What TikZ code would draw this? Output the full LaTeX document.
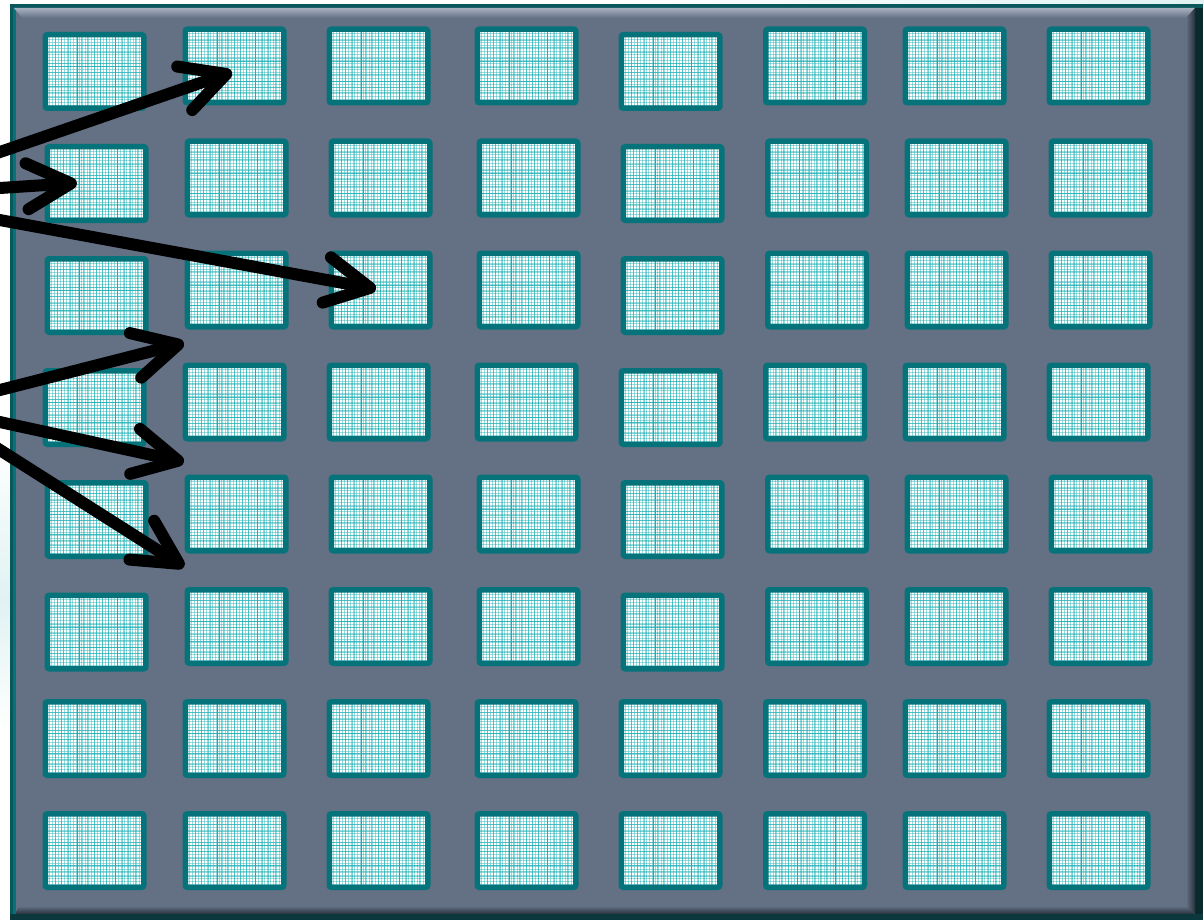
\documentclass[tikz,border=0pt]{standalone}
\usetikzlibrary{arrows.meta}
\definecolor{panel}{HTML}{647084}
\definecolor{tealb}{HTML}{06737A}
\definecolor{cyanl}{HTML}{19AFB3}
\definecolor{frameD}{HTML}{0A575C}
\definecolor{frameK}{HTML}{0B2A2E}
\definecolor{bevelL}{HTML}{A7B1C0}
\definecolor{shadowD}{HTML}{26323C}
\definecolor{glow}{HTML}{E0F2F2}
\newcommand\vln[3]{\draw[cyanl,#2] ([xshift=#1pt]path picture bounding box.north west) -- ([xshift=#1pt]path picture bounding box.south west);}
\newcommand\hln[3]{\draw[cyanl,#2] ([yshift=-#1pt]path picture bounding box.north west) -- ([yshift=-#1pt]path picture bounding box.north east);}
\newcommand\plaidpat{%
    \foreach \i in {1.5,4.5,...,99} {\vln{\i}{opacity=.42,line width=1}{}}
    \foreach \j in {1.5,4.5,...,75} {\hln{\j}{opacity=.42,line width=1}{}}
    \foreach \i in {10,16,23,36,42,49,55,61,77,83,90} {\vln{\i}{opacity=.55,line width=1}{}}
    \foreach \j in {11,18,29,38,45,58,63} {\hln{\j}{opacity=.55,line width=1}{}}
    \foreach \i in {32,70} {\vln{\i}{line width=1.3}{}}
    \foreach \j in {32,52} {\hln{\j}{opacity=.8,line width=1.2}{}}
}
\tikzset{
  cell/.style={draw=tealb, line width=5.5, fill=white, rounded corners=2,
    minimum width=98.5, minimum height=73.5, inner sep=0, outer sep=0,
    path picture={\plaidpat}},
  arr/.style={draw=black, line width=12, line cap=round,
    -{Straight Barb[length=44pt,width=46pt,round]}}
}
\begin{document}
\begin{tikzpicture}[x=1pt,y=-1pt]
\useasboundingbox (0,0) rectangle (1204,920);
\clip (0,0) rectangle (1204,920);
\fill[white] (0,0) rectangle (1204,920);
% faint glow outside the panel
\shade[top color=white, bottom color=glow] (0,440) rectangle (10,600);
\shade[top color=glow, bottom color=white] (0,600) rectangle (10,730);
\shade[left color=white, right color=glow] (600,0) rectangle (1204,5);
% panel frame
\fill[frameD] (10,4) rectangle (1203,921);
\fill[frameK] (1195,8) rectangle (1203,921);
\fill[frameK!70!frameD] (10,914) rectangle (1203,921);
\fill[tealb] (13,8) rectangle (16,914);
\fill[panel] (16,8) rectangle (1195,914);
% bevels
\shade[top color=bevelL, bottom color=panel] (14,8) -- (1195,8) -- (1186,18) -- (22,18) -- cycle;
\shade[left color=panel, right color=shadowD] (1186,18) -- (1195,8) -- (1195,914) -- (1186,906) -- cycle;
\shade[top color=panel, bottom color=shadowD] (18,906) -- (1186,906) -- (1195,914) -- (16,914) -- cycle;
% cells
\foreach \r/\y/\dx in {1/66/0,2/178/2,3/290/2,4/402/0,5/514/2,6/626.5/2,7/738.5/0,8/850.5/0}{
  \foreach \c/\x in {1/94.5,2/234.5,3/378.5,4/526.5,5/670.5,6/815,7/954.5,8/1098.5}{
    \pgfmathsetmacro\dy{((\c==1||\c==5)&&\r<7)?5.5:0}
    \node[cell] (c\r\c) at (\x+\dx,\y+\dy) {};
  }
}
% arrows (free ends enter from the left)
\coordinate (s1) at (-20,158.9);
\coordinate (t1) at (232,72);
\coordinate (s2) at (-20,189.3);
\coordinate (t2) at (77,183);
\coordinate (s3) at (-20,216.4);
\coordinate (t3) at (376,289);
\coordinate (s4) at (-20,395.1);
\coordinate (t4) at (184,343);
\coordinate (s5) at (-20,417.7);
\coordinate (t5) at (184,462);
\coordinate (s6) at (-20,437.3);
\coordinate (t6) at (184,567);
\draw[arr] (s1) -- (t1);
\draw[arr] (s2) -- (t2);
\draw[arr] (s3) -- (t3);
\draw[arr] (s4) -- (t4);
\draw[arr] (s5) -- (t5);
\draw[arr] (s6) -- (t6);
\end{tikzpicture}
\end{document}
